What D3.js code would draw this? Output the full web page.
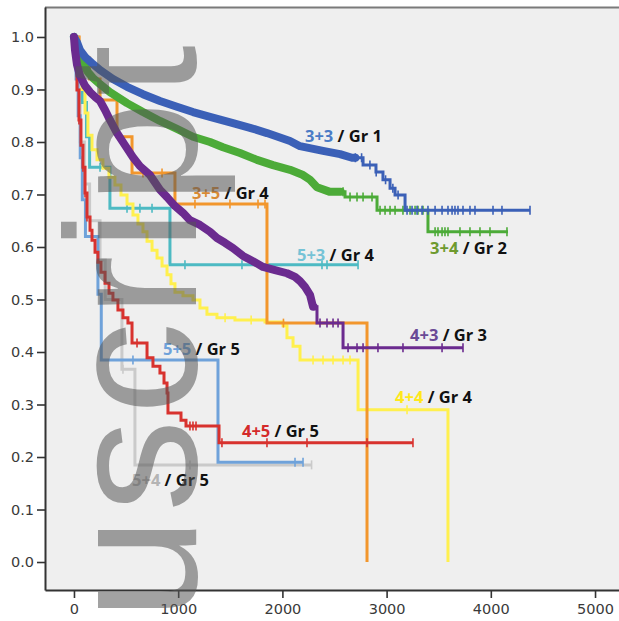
<!DOCTYPE html>
<html>
<head>
<meta charset="utf-8">
<script src="https://cdn.jsdelivr.net/npm/d3@7"></script>
<style>
  body { margin: 0; background: #fff; }
  svg { display: block; }
</style>
</head>
<body>
<div id="chart"></div>
<script>
// Gleason pattern groups and their grade group
const groups = ["3+3", "3+4", "3+5", "5+3", "4+3", "4+4", "5+5", "4+5", "5+4"]
const grades = ["Gr 1", "Gr 2", "Gr 4", "Gr 4", "Gr 3", "Gr 4", "Gr 5", "Gr 5", "Gr 5"]

// Kaplan-Meier steps per group: [days, survival from that day on]
const steps33 = [[0,1],[29,0.99],[58,0.975],[106,0.962],[173,0.95],[250,0.937],[374,0.92],[509,0.905],[662,0.891],[825,0.878],[988,0.867],[1142,0.857],[1305,0.848],[1526,0.836],[1689,0.827],[1852,0.817],[2073,0.802],[2169,0.792],[2390,0.783],[2553,0.777],[2668,0.77],[2774,0.756],[2898,0.743],[2965,0.728],[3033,0.712],[3081,0.699],[3177,0.67]]
const steps34 = [[0,1],[38,0.979],[86,0.952],[134,0.933],[182,0.922],[250,0.91],[345,0.895],[509,0.874],[662,0.857],[825,0.84],[988,0.825],[1142,0.81],[1305,0.8],[1430,0.79],[1593,0.779],[1756,0.766],[1910,0.756],[2073,0.747],[2198,0.737],[2265,0.728],[2332,0.714],[2457,0.705],[2601,0.695],[2908,0.67],[3397,0.629]]
const steps35 = [[0,1],[50,0.96],[150,0.92],[250,0.88],[413,0.81],[557,0.741],[969,0.682],[1852,0.455],[2812,0]]
const steps53 = [[0,1],[40,0.94],[80,0.875],[120,0.81],[150,0.752],[345,0.674],[921,0.566]]
const steps43 = [[0,1],[10,0.975],[29,0.947],[58,0.926],[106,0.907],[154,0.895],[202,0.886],[250,0.878],[298,0.861],[345,0.842],[413,0.817],[489,0.794],[566,0.771],[633,0.754],[729,0.737],[825,0.709],[893,0.695],[969,0.678],[1046,0.665],[1113,0.651],[1209,0.642],[1305,0.629],[1372,0.617],[1449,0.608],[1526,0.598],[1622,0.583],[1718,0.573],[1814,0.562],[1929,0.556],[2044,0.55],[2121,0.543],[2169,0.535],[2217,0.524],[2265,0.509],[2294,0.486],[2332,0.455],[2582,0.408]]
const steps44 = [[0,1],[19,0.985],[38,0.956],[58,0.933],[77,0.9],[106,0.855],[134,0.813],[173,0.785],[221,0.766],[278,0.75],[336,0.733],[393,0.718],[451,0.699],[509,0.682],[566,0.661],[614,0.644],[662,0.629],[701,0.611],[749,0.594],[797,0.579],[845,0.564],[893,0.547],[931,0.53],[969,0.514],[1046,0.507],[1142,0.499],[1209,0.484],[1276,0.472],[1372,0.465],[1545,0.461],[1833,0.457],[2006,0.45],[2044,0.427],[2102,0.411],[2169,0.385],[2726,0.29],[3589,0]]
const steps55 = [[0,1],[20,0.92],[40,0.85],[60,0.77],[80,0.69],[110,0.62],[230,0.51],[262,0.385],[1382,0.19]]
const steps45 = [[0,1],[10,0.956],[29,0.899],[48,0.842],[67,0.794],[86,0.752],[106,0.703],[125,0.657],[154,0.632],[173,0.613],[202,0.59],[230,0.571],[259,0.552],[298,0.531],[336,0.512],[374,0.499],[422,0.48],[470,0.465],[518,0.455],[557,0.417],[701,0.389],[758,0.373],[825,0.36],[864,0.341],[893,0.322],[902,0.284],[1027,0.27],[1075,0.259],[1392,0.227]]
const steps54 = [[0,1],[30,0.9],[60,0.8],[100,0.72],[150,0.65],[250,0.575],[300,0.5],[460,0.367],[585,0.185]]

// last follow-up day of each group
const lastDay = [4376, 4165, 2812, 2726, 3733, 3589, 2198, 3253, 2280]

// censored cases (days)
const cens33 = [2700,2760,2840,2900,2990,3060,3110,3196,3244,3292,3340,3397,3465,3532,3589,3628,3656,3685,3733,3800,3848,4021,4107,4376]
const cens34 = [2582,2649,2716,2774,2860,2937,2985,3033,3081,3157,3225,3273,3301,3349,3465,3493,3532,3560,3589,3704,3800,3896,3992,4155]
const cens35 = [662,845,1161,1497,1766,1833,2010]
const cens53 = [250,509,633,749,1065,1612,2380,2428,2726]
const cens43 = [2361,2428,2486,2534,2630,2716,2774,2917,3157,3532,3733]
const cens44 = [19,38,58,1450,1700,2294,2390,2486,2582,2649,3196]
const cens55 = [566,2121,2198]
const cens45 = [10,48,86,106,125,605,1113,1142,1171,1420,1852,2236,2812,3253]
const cens54 = [470,1113,2280]

const xTicks = [0, 1000, 2000, 3000, 4000, 5000]
const yTicks = [0, 0.1, 0.2, 0.3, 0.4, 0.5, 0.6, 0.7, 0.8, 0.9, 1.0]

const allSteps = [steps33, steps34, steps35, steps53, steps43, steps44, steps55, steps45, steps54]
const allCens = [cens33, cens34, cens35, cens53, cens43, cens44, cens55, cens45, cens54]

// styling
const lineColor = ["#3b60b7", "#4cab38", "#f2962c", "#4dbac3", "#6b2b8f", "#fff04e", "#6fa2da", "#d8322e", "#cacaca"]
const labelColor = ["#4b7cc6", "#6e9a2e", "#d98a35", "#76c3d6", "#6a4a96", "#ffe81a", "#6fa2da", "#d42a2a", "#b4b4b4"]
const labelPos = [[2217,0.8],[3417,0.587],[1132,0.691],[2140,0.573],[3225,0.421],[3081,0.303],[854,0.394],[1612,0.238],[557,0.145]]
// thick band where censor marks are too dense to tell apart
const bandUntil = { "3+3": 2700, "3+4": 2560, "4+3": 2300 }
const drawOrder = [8, 6, 3, 5, 2, 1, 0, 7, 4]

var margin = { top: 7, right: 0, bottom: 31, left: 45 },
    width = 619 - margin.left - margin.right,
    height = 621 - margin.top - margin.bottom;

var root = d3.select("#chart")
    .append("svg")
    .attr("width", 619)
    .attr("height", 621)

var svg = root.append("g")
    .attr("transform", "translate(" + margin.left + "," + margin.top + ")");

var x = d3.scaleLinear().domain([-278, 5230]).range([0, width])
var y = d3.scaleLinear().domain([-0.0533, 1.0571]).range([height, 0])

svg.append("rect")
    .attr("width", width)
    .attr("height", height)
    .attr("fill", "#efefef")

svg.append("line")
    .attr("x1", 0).attr("x2", width)
    .attr("y1", 0.5).attr("y2", 0.5)
    .attr("stroke", "#7a7a7a")
    .attr("stroke-width", 2)

// axes
var xAxis = svg.append("g")
    .attr("transform", "translate(0," + height + ")")
    .call(d3.axisBottom(x).tickValues(xTicks).tickFormat(d3.format("d")).tickSize(8).tickSizeOuter(0).tickPadding(6))
var yAxis = svg.append("g")
    .call(d3.axisLeft(y).tickValues(yTicks).tickFormat(d3.format(".1f")).tickSize(8).tickSizeOuter(0).tickPadding(3))

;[xAxis, yAxis].forEach(a => {
    a.select(".domain").attr("stroke", "#333").attr("stroke-width", 2)
    a.selectAll(".tick line").attr("stroke", "#333").attr("stroke-width", 1.6)
    a.selectAll(".tick text")
        .attr("fill", "#3a3a3a")
        .style("font-family", "DejaVu Sans, sans-serif")
        .style("font-size", "14.5px")
})

var stepLine = d3.line().x(d => x(d[0])).y(d => y(d[1])).curve(d3.curveStepAfter)
var smoothLine = d3.line().x(d => x(d[0])).y(d => y(d[1]))

function survAt(st, t) {
    var i = d3.bisector(d => d[0]).right(st, t) - 1
    return st[Math.max(i, 0)][1]
}

var plot = svg.append("g")

drawOrder.forEach(i => {
    var st = allSteps[i]
    var end = lastDay[i]
    var pts = st.slice()
    if (end > st[st.length - 1][0]) pts.push([end, st[st.length - 1][1]])
    var band = bandUntil[groups[i]]
    var g = plot.append("g")

    // thin step line (after the dense band, if there is one)
    var thin = band ? [[band, survAt(st, band)]].concat(pts.filter(d => d[0] > band)) : pts
    g.append("path")
        .attr("d", stepLine(thin))
        .attr("fill", "none")
        .attr("stroke", lineColor[i])
        .attr("stroke-width", 3)

    if (band) {
        var bpts = st.filter(d => d[0] <= band)
        bpts.push([band, survAt(st, band)])
        g.append("path")
            .attr("d", smoothLine(bpts))
            .attr("fill", "none")
            .attr("stroke", lineColor[i])
            .attr("stroke-width", 8)
            .attr("stroke-linejoin", "round")
            .attr("stroke-linecap", "round")
    }

    g.selectAll(".cens")
        .data(allCens[i])
        .join("line")
        .attr("x1", d => x(d)).attr("x2", d => x(d))
        .attr("y1", d => y(survAt(st, d)) - 4.5)
        .attr("y2", d => y(survAt(st, d)) + 4.5)
        .attr("stroke", lineColor[i])
        .attr("stroke-width", 1.6)
})

// group labels
groups.forEach((name, i) => {
    var t = svg.append("text")
        .attr("x", x(labelPos[i][0]))
        .attr("y", y(labelPos[i][1]))
        .style("font-family", "Open Sans, Liberation Sans, sans-serif")
        .style("font-weight", "bold")
        .style("font-size", "16.5px")
    t.append("tspan").attr("fill", labelColor[i]).text(name)
    t.append("tspan").attr("fill", "#111").text(" / " + grades[i])
})

// watermark
root.append("text")
    .attr("transform", "translate(196,40) rotate(-90)")
    .attr("text-anchor", "end")
    .style("font-family", "Liberation Sans, Arial, sans-serif")
    .style("font-size", "185px")
    .style("letter-spacing", "5px")
    .attr("fill", "#555")
    .attr("fill-opacity", 0.55)
    .text("Manuscript")
</script>
</body>
</html>
